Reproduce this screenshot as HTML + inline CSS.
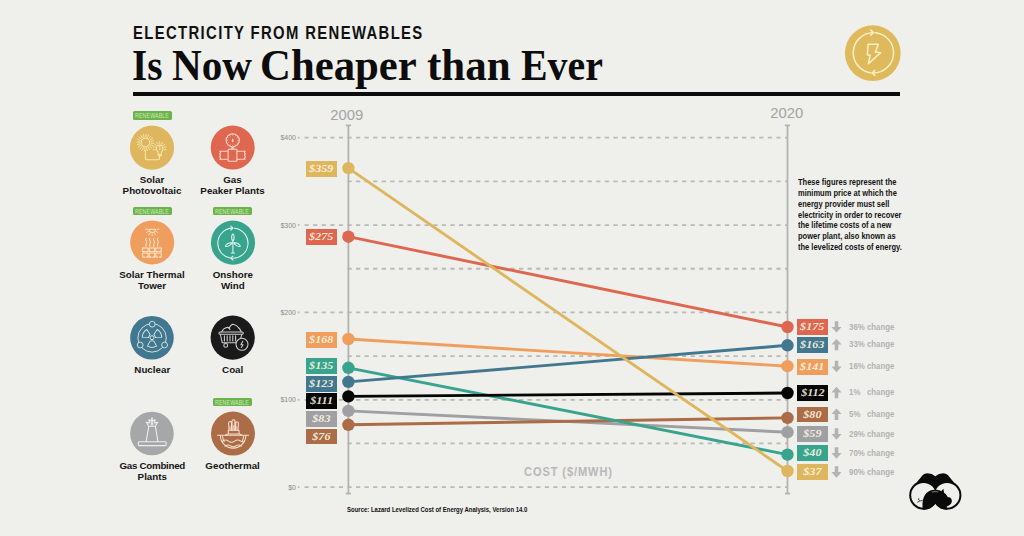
<!DOCTYPE html>
<html><head><meta charset="utf-8">
<style>
html,body{margin:0;padding:0;}
body{width:1024px;height:536px;overflow:hidden;position:relative;background:#efefeb;font-family:"Liberation Sans",sans-serif;}
.abs{position:absolute;}
#sub{position:absolute;left:133px;top:24.5px;font:bold 17.5px/1 "Liberation Sans",sans-serif;letter-spacing:1.6px;transform:scaleX(0.849);transform-origin:0 0;color:#111;white-space:nowrap;}
#title{position:absolute;left:0;top:42.7px;font:bold 44.5px/1 "Liberation Serif",serif;color:#0c0c0c;white-space:nowrap;}
#title span{position:absolute;top:0;transform-origin:0 0;}
#rule{position:absolute;left:133px;top:92.4px;width:767px;height:4px;background:#0c0c0c;}
svg.chart{position:absolute;left:0;top:0;}
.bx{position:absolute;width:31.3px;height:15.9px;color:rgba(255,246,226,0.9);font:italic bold 11.2px/15.6px "Liberation Serif",serif;text-align:center;}
.bx span{display:inline-block;transform:scaleX(1.08);}
.chg{position:absolute;left:849px;width:60px;height:12px;font:bold 9.3px/12px "Liberation Sans",sans-serif;color:#b3b3b3;white-space:nowrap;}
.chg .pc{position:absolute;left:0;top:0;transform:scaleX(0.85);transform-origin:0 0;}
.chg .cw{position:absolute;left:18px;top:0;transform:scaleX(0.84);transform-origin:0 0;}
.yr{position:absolute;font:14.8px/1 "Liberation Sans",sans-serif;color:#a3a3a3;}
.ylab{position:absolute;width:40px;left:256px;text-align:right;font:7px/1 "Liberation Sans",sans-serif;color:#8a8a8a;}
#desc{position:absolute;left:798.4px;top:177.2px;font:bold 8.9px/10.8px "Liberation Sans",sans-serif;color:#141414;white-space:nowrap;transform:scaleX(0.846);transform-origin:0 0;}
#cost{position:absolute;left:524.3px;top:464.6px;font:bold 13.6px/1 "Liberation Sans",sans-serif;color:#b9b9b9;letter-spacing:1.1px;white-space:nowrap;transform:scaleX(0.815);transform-origin:0 0;}
#src{position:absolute;left:346.8px;top:505.5px;font:bold 7.3px/1 "Liberation Sans",sans-serif;color:#111;white-space:nowrap;transform:scaleX(0.82);transform-origin:0 0;}
.ic{position:absolute;width:44.5px;height:44.5px;border-radius:50%;}
.lab{position:absolute;width:90px;text-align:center;font:bold 9.8px/10.8px "Liberation Sans",sans-serif;color:#151515;}
.badge{position:absolute;width:38.8px;height:8.4px;background:#6cb34d;border-radius:1.6px;}
.badge span{position:absolute;left:2.2px;top:1.5px;font:6.6px/1 "Liberation Sans",sans-serif;color:#cbebb3;white-space:nowrap;transform:scaleX(0.8);transform-origin:0 0;letter-spacing:0.15px;}
</style></head><body>
<div id="sub">ELECTRICITY FROM RENEWABLES</div>
<div id="title"><span style="left:131.74px;transform:scaleX(0.8781)">Is</span><span style="left:172.48px;transform:scaleX(0.9235)">Now</span><span style="left:260.48px;transform:scaleX(0.9613)">Cheaper</span><span style="left:426.93px;transform:scaleX(0.9671)">than</span><span style="left:521.40px;transform:scaleX(0.8956)">Ever</span></div>
<div id="rule"></div>
<svg class="chart" width="1024" height="536" viewBox="0 0 1024 536">
<line x1="304.5" y1="137.70" x2="787" y2="137.70" stroke="#b9b9b6" stroke-width="1.8" stroke-dasharray="4.25 4.33"/><line x1="297.8" y1="137.70" x2="299.5" y2="137.70" stroke="#b9b9b6" stroke-width="1.8"/><line x1="347.4" y1="181.38" x2="787" y2="181.38" stroke="#b9b9b6" stroke-width="1.8" stroke-dasharray="4.25 4.33"/><line x1="304.5" y1="225.06" x2="787" y2="225.06" stroke="#b9b9b6" stroke-width="1.8" stroke-dasharray="4.25 4.33"/><line x1="297.8" y1="225.06" x2="299.5" y2="225.06" stroke="#b9b9b6" stroke-width="1.8"/><line x1="347.4" y1="268.74" x2="787" y2="268.74" stroke="#b9b9b6" stroke-width="1.8" stroke-dasharray="4.25 4.33"/><line x1="304.5" y1="312.42" x2="787" y2="312.42" stroke="#b9b9b6" stroke-width="1.8" stroke-dasharray="4.25 4.33"/><line x1="297.8" y1="312.42" x2="299.5" y2="312.42" stroke="#b9b9b6" stroke-width="1.8"/><line x1="347.4" y1="356.10" x2="787" y2="356.10" stroke="#b9b9b6" stroke-width="1.8" stroke-dasharray="4.25 4.33"/><line x1="304.5" y1="399.78" x2="787" y2="399.78" stroke="#b9b9b6" stroke-width="1.8" stroke-dasharray="4.25 4.33"/><line x1="297.8" y1="399.78" x2="299.5" y2="399.78" stroke="#b9b9b6" stroke-width="1.8"/><line x1="347.4" y1="443.46" x2="787" y2="443.46" stroke="#b9b9b6" stroke-width="1.8" stroke-dasharray="4.25 4.33"/><line x1="304.5" y1="487.14" x2="787" y2="487.14" stroke="#b9b9b6" stroke-width="1.8" stroke-dasharray="4.25 4.33"/><line x1="297.8" y1="487.14" x2="299.5" y2="487.14" stroke="#b9b9b6" stroke-width="1.8"/><line x1="348.4" y1="125.4" x2="348.4" y2="493.6" stroke="#b3b3b1" stroke-width="1.8"/><line x1="345.79999999999995" y1="125.4" x2="351.0" y2="125.4" stroke="#b3b3b1" stroke-width="1.8"/><line x1="345.79999999999995" y1="493.6" x2="351.0" y2="493.6" stroke="#b3b3b1" stroke-width="1.8"/><line x1="787.5" y1="125.4" x2="787.5" y2="493.6" stroke="#b3b3b1" stroke-width="1.8"/><line x1="784.9" y1="125.4" x2="790.1" y2="125.4" stroke="#b3b3b1" stroke-width="1.8"/><line x1="784.9" y1="493.6" x2="790.1" y2="493.6" stroke="#b3b3b1" stroke-width="1.8"/><line x1="348.4" y1="410.9" x2="787.5" y2="432.2" stroke="#9fa0a3" stroke-width="2.9"/><line x1="348.4" y1="424.8" x2="787.5" y2="417.9" stroke="#ab6c47" stroke-width="2.9"/><line x1="348.4" y1="339.0" x2="787.5" y2="366.2" stroke="#f09e5e" stroke-width="2.9"/><line x1="348.4" y1="367.8" x2="787.5" y2="454.6" stroke="#38a48e" stroke-width="2.9"/><line x1="348.4" y1="381.9" x2="787.5" y2="345.3" stroke="#42788f" stroke-width="2.9"/><line x1="348.4" y1="236.7" x2="787.5" y2="327.0" stroke="#df6750" stroke-width="2.9"/><line x1="348.4" y1="396.4" x2="787.5" y2="393.0" stroke="#050505" stroke-width="2.9"/><line x1="348.4" y1="168.1" x2="787.5" y2="471.0" stroke="#ddb65d" stroke-width="2.9"/><circle cx="348.4" cy="410.9" r="6.2" fill="#9fa0a3"/><circle cx="787.5" cy="432.2" r="6.2" fill="#9fa0a3"/><circle cx="348.4" cy="424.8" r="6.2" fill="#ab6c47"/><circle cx="787.5" cy="417.9" r="6.2" fill="#ab6c47"/><circle cx="348.4" cy="339.0" r="6.2" fill="#f09e5e"/><circle cx="787.5" cy="366.2" r="6.2" fill="#f09e5e"/><circle cx="348.4" cy="367.8" r="6.2" fill="#38a48e"/><circle cx="787.5" cy="454.6" r="6.2" fill="#38a48e"/><circle cx="348.4" cy="381.9" r="6.2" fill="#42788f"/><circle cx="787.5" cy="345.3" r="6.2" fill="#42788f"/><circle cx="348.4" cy="236.7" r="6.2" fill="#df6750"/><circle cx="787.5" cy="327.0" r="6.2" fill="#df6750"/><circle cx="348.4" cy="396.4" r="6.2" fill="#050505"/><circle cx="787.5" cy="393.0" r="6.2" fill="#050505"/><circle cx="348.4" cy="168.1" r="6.2" fill="#ddb65d"/><circle cx="787.5" cy="471.0" r="6.2" fill="#ddb65d"/><polygon fill="#b3b3b3" points="834.70,466.30 838.30,466.30 838.30,472.10 841.60,472.10 836.50,477.70 831.40,472.10 834.70,472.10"/><polygon fill="#b3b3b3" points="834.70,321.20 838.30,321.20 838.30,327.00 841.60,327.00 836.50,332.60 831.40,327.00 834.70,327.00"/><polygon fill="#b3b3b3" points="834.70,360.80 838.30,360.80 838.30,366.60 841.60,366.60 836.50,372.20 831.40,366.60 834.70,366.60"/><polygon fill="#b3b3b3" points="834.70,447.30 838.30,447.30 838.30,453.10 841.60,453.10 836.50,458.70 831.40,453.10 834.70,453.10"/><polygon fill="#b3b3b3" points="834.70,350.30 838.30,350.30 838.30,344.50 841.60,344.50 836.50,338.90 831.40,344.50 834.70,344.50"/><polygon fill="#b3b3b3" points="834.70,398.20 838.30,398.20 838.30,392.40 841.60,392.40 836.50,386.80 831.40,392.40 834.70,392.40"/><polygon fill="#b3b3b3" points="834.70,428.30 838.30,428.30 838.30,434.10 841.60,434.10 836.50,439.70 831.40,434.10 834.70,434.10"/><polygon fill="#b3b3b3" points="834.70,419.90 838.30,419.90 838.30,414.10 841.60,414.10 836.50,408.50 831.40,414.10 834.70,414.10"/>
</svg>
<div class="yr" style="left:330.3px;top:107.5px">2009</div>
<div class="yr" style="left:770.2px;top:105.8px">2020</div>
<div class="ylab" style="top:134px">$400</div>
<div class="ylab" style="top:222px">$300</div>
<div class="ylab" style="top:309px">$200</div>
<div class="ylab" style="top:396px">$100</div>
<div class="ylab" style="top:484px">$0</div>
<div class="bx" style="left:306px;top:160.8px;background:#ddb65d"><span>$359</span></div><div class="bx" style="left:797px;top:464.3px;background:#ddb65d"><span>$37</span></div><div class="chg" style="top:465.8px"><span class="pc">90%</span><span class="cw">change</span></div><div class="bx" style="left:306px;top:229.3px;background:#df6750"><span>$275</span></div><div class="bx" style="left:797px;top:319.2px;background:#df6750"><span>$175</span></div><div class="chg" style="top:320.7px"><span class="pc">36%</span><span class="cw">change</span></div><div class="bx" style="left:306px;top:332.4px;background:#f09e5e"><span>$168</span></div><div class="bx" style="left:797px;top:358.8px;background:#f09e5e"><span>$141</span></div><div class="chg" style="top:360.3px"><span class="pc">16%</span><span class="cw">change</span></div><div class="bx" style="left:306px;top:358.4px;background:#38a48e"><span>$135</span></div><div class="bx" style="left:797px;top:445.3px;background:#38a48e"><span>$40</span></div><div class="chg" style="top:446.8px"><span class="pc">70%</span><span class="cw">change</span></div><div class="bx" style="left:306px;top:376.0px;background:#42788f"><span>$123</span></div><div class="bx" style="left:797px;top:336.9px;background:#42788f"><span>$163</span></div><div class="chg" style="top:338.4px"><span class="pc">33%</span><span class="cw">change</span></div><div class="bx" style="left:306px;top:393.1px;background:#050505"><span>$111</span></div><div class="bx" style="left:797px;top:384.8px;background:#050505"><span>$112</span></div><div class="chg" style="top:386.3px"><span class="pc">1%</span><span class="cw">change</span></div><div class="bx" style="left:306px;top:410.9px;background:#9fa0a3"><span>$83</span></div><div class="bx" style="left:797px;top:426.3px;background:#9fa0a3"><span>$59</span></div><div class="chg" style="top:427.8px"><span class="pc">29%</span><span class="cw">change</span></div><div class="bx" style="left:306px;top:428.5px;background:#ab6c47"><span>$76</span></div><div class="bx" style="left:797px;top:406.5px;background:#ab6c47"><span>$80</span></div><div class="chg" style="top:408.0px"><span class="pc">5%</span><span class="cw">change</span></div>
<div id="desc">These figures represent the<br>minimum price at which the<br>energy provider must sell<br>electricity in order to recover<br>the lifetime costs of a new<br>power plant, also known as<br>the levelized costs of energy.</div>
<div id="cost">COST ($/MWH)</div>
<div id="src">Source: Lazard Levelized Cost of Energy Analysis, Version 14.0</div>
<svg class="chart" width="1024" height="536" viewBox="0 0 1024 536"><g transform="translate(127,123)"><circle cx="25" cy="24.6" r="22.1" fill="#ddb65d"/><circle cx="18.4" cy="19.6" r="4.3" fill="none" stroke="#fbe5ad" stroke-width="1.05" stroke-linecap="round" stroke-linejoin="round"/><path d="M23.98,20.04L26.77,20.26M23.57,21.74L26.16,22.81M22.66,23.24L24.79,25.06M21.33,24.37L22.79,26.76M19.71,25.05L20.36,27.77M17.96,25.18L17.74,27.97M16.26,24.77L15.19,27.36M14.76,23.86L12.94,25.99M13.63,22.53L11.24,23.99M12.95,20.91L10.23,21.56M12.82,19.16L10.03,18.94M13.23,17.46L10.64,16.39M14.14,15.96L12.01,14.14M15.47,14.83L14.01,12.44M17.09,14.15L16.44,11.43M18.84,14.02L19.06,11.23M20.54,14.43L21.61,11.84M22.04,15.34L23.86,13.21M23.17,16.67L25.56,15.21M23.85,18.29L26.57,17.64" stroke="#fbe5ad" stroke-width="0.95" stroke-linecap="round" fill="none"/><path d="M18.4,27.6V35.4Q18.4,36.8 19.8,36.8H31Q32.5,36.8 32.5,35.3V32.6" fill="none" stroke="#fbe5ad" stroke-width="1.05" stroke-linecap="round" stroke-linejoin="round"/><path d="M31,31.2V29Q29.4,27.8 29.4,25.3A3.3,3.3 0 1 1 36,25.3Q36,27.8 34.4,29V31.2Z" fill="none" stroke="#fbe5ad" stroke-width="1.05" stroke-linecap="round" stroke-linejoin="round"/><path d="M31,32.6H34.4" fill="none" stroke="#fbe5ad" stroke-width="1.05" stroke-linecap="round" stroke-linejoin="round"/><path d="M33.6,23.4Q32.7,22.9 32.1,23.6Q31.8,24.5 32.8,25Q33.7,25.4 33.4,26.4Q32.8,27 31.9,26.4M32.7,22.3V27.4" fill="none" stroke="#fbe5ad" stroke-width="0.6"/><path d="M28.16,26.42L26.32,26.91M28.09,24.28L26.23,23.91M28.97,22.34L27.46,21.18M30.62,20.98L29.78,19.28M32.70,20.50L32.70,18.60M34.78,20.98L35.62,19.28M36.43,22.34L37.94,21.18M37.31,24.28L39.17,23.91M37.24,26.42L39.08,26.91" stroke="#fbe5ad" stroke-width="0.9" stroke-linecap="round" fill="none"/></g><g transform="translate(208,123)"><circle cx="24.7" cy="24.6" r="22" fill="#df6750"/><circle cx="24.7" cy="17.3" r="6.6" fill="none" stroke="#fbdccc" stroke-width="1.05" stroke-linejoin="round"/><path d="M29.70,17.30L30.60,17.30M29.03,19.80L29.81,20.25M27.20,21.63L27.65,22.41M24.70,22.30L24.70,23.20M22.20,21.63L21.75,22.41M20.37,19.80L19.59,20.25M19.70,17.30L18.80,17.30M20.37,14.80L19.59,14.35M22.20,12.97L21.75,12.19M24.70,12.30L24.70,11.40M27.20,12.97L27.65,12.19M29.03,14.80L29.81,14.35" stroke="#fbdccc" stroke-width="0.6" stroke-linecap="round" fill="none"/><path d="M24.7,15.2Q25.9,17.3 25.6,18.3A0.9,0.9 0 1 1 23.8,18.3Q23.5,17.3 24.7,15.2Z" fill="#fbdccc"/><path d="M24.7,23.9V26.1M22.9,24.9H26.5" fill="none" stroke="#fbdccc" stroke-width="1.05" stroke-linejoin="round"/><rect x="20.1" y="26.2" width="8.8" height="12" rx="0.6" fill="none" stroke="#fbdccc" stroke-width="1.05" stroke-linejoin="round"/><path d="M20.1,28.2H11.8L12.6,29.6L11.6,31L12.6,32.4L11.6,33.8L12.6,35.2L11.8,36.3H20.1" fill="none" stroke="#fbdccc" stroke-width="1.05" stroke-linejoin="round"/><path d="M28.9,28.2H37.2L36.4,29.6L37.4,31L36.4,32.4L37.4,33.8L36.4,35.2L37.2,36.3H28.9" fill="none" stroke="#fbdccc" stroke-width="1.05" stroke-linejoin="round"/></g><g transform="translate(127,218)"><circle cx="25.2" cy="24.4" r="22" fill="#f09e5e"/><path d="M21.9,11.2A3.3,3.3 0 0 0 28.5,11.2Z" fill="none" stroke="#fde6cc" stroke-width="1.05" stroke-linecap="round" stroke-linejoin="round"/><path d="M30.00,11.20L31.80,11.20M29.36,13.60L30.92,14.50M27.60,15.36L28.50,16.92M25.20,16.00L25.20,17.80M22.80,15.36L21.90,16.92M21.04,13.60L19.48,14.50M20.40,11.20L18.60,11.20" stroke="#fde6cc" stroke-width="0.95" stroke-linecap="round" fill="none"/><path d="M19.2,20.2Q18.099999999999998,21.6 19.2,23Q20.3,24.4 19.2,25.8Q18.099999999999998,27.2 19.2,28.4" fill="none" stroke="#fde6cc" stroke-width="1.05" stroke-linecap="round" stroke-linejoin="round"/><path d="M23.0,20.2Q21.9,21.6 23.0,23Q24.1,24.4 23.0,25.8Q21.9,27.2 23.0,28.4" fill="none" stroke="#fde6cc" stroke-width="1.05" stroke-linecap="round" stroke-linejoin="round"/><path d="M27.0,20.2Q25.9,21.6 27.0,23Q28.1,24.4 27.0,25.8Q25.9,27.2 27.0,28.4" fill="none" stroke="#fde6cc" stroke-width="1.05" stroke-linecap="round" stroke-linejoin="round"/><path d="M30.9,20.2Q29.799999999999997,21.6 30.9,23Q32.0,24.4 30.9,25.8Q29.799999999999997,27.2 30.9,28.4" fill="none" stroke="#fde6cc" stroke-width="1.05" stroke-linecap="round" stroke-linejoin="round"/><path d="M17.60,33.50H15.60V29.90H21.00V33.50H19.00" fill="none" stroke="#fde6cc" stroke-width="1.05" stroke-linecap="round" stroke-linejoin="round"/><path d="M24.20,33.50H22.20V29.90H27.60V33.50H25.60" fill="none" stroke="#fde6cc" stroke-width="1.05" stroke-linecap="round" stroke-linejoin="round"/><path d="M30.80,33.50H28.80V29.90H34.20V33.50H32.20" fill="none" stroke="#fde6cc" stroke-width="1.05" stroke-linecap="round" stroke-linejoin="round"/><path d="M17.60,39.10H15.60V35.00H21.00V39.10H19.00" fill="none" stroke="#fde6cc" stroke-width="1.05" stroke-linecap="round" stroke-linejoin="round"/><path d="M24.20,39.10H22.20V35.00H27.60V39.10H25.60" fill="none" stroke="#fde6cc" stroke-width="1.05" stroke-linecap="round" stroke-linejoin="round"/><path d="M30.80,39.10H28.80V35.00H34.20V39.10H32.20" fill="none" stroke="#fde6cc" stroke-width="1.05" stroke-linecap="round" stroke-linejoin="round"/></g><g transform="translate(208,218)"><circle cx="25" cy="24.7" r="22.1" fill="#38a48e"/><path d="M26.48,10.18A15.1,15.1 0 0 1 23.32,40.22" fill="none" stroke="#e3f5ee" stroke-width="1.05" stroke-linecap="round" stroke-linejoin="round"/><path d="M22.28,40.07A15.1,15.1 0 0 1 24.37,10.11" fill="none" stroke="#e3f5ee" stroke-width="1.05" stroke-linecap="round" stroke-linejoin="round"/><path d="M22.77,8.11L24.97,10.11L22.77,12.11" fill="none" stroke="#e3f5ee" stroke-width="1.05" stroke-linecap="round" stroke-linejoin="round"/><path d="M24.92,38.22L22.72,40.22L24.92,42.22" fill="none" stroke="#e3f5ee" stroke-width="1.05" stroke-linecap="round" stroke-linejoin="round"/><path d="M24.9,25.2V35.0M23.3,35.0H26.6" fill="none" stroke="#e3f5ee" stroke-width="1.05" stroke-linecap="round" stroke-linejoin="round"/><path transform="translate(24.9,24.3) rotate(0)" d="M0,-1.0C-1.9,-3.5 -1.4,-7.6 0,-8.4C1.4,-7.6 1.9,-3.5 0,-1.0Z" fill="none" stroke="#e3f5ee" stroke-width="1.05" stroke-linecap="round" stroke-linejoin="round"/><path transform="translate(24.9,24.3) rotate(118)" d="M0,-1.0C-1.9,-3.5 -1.4,-7.6 0,-8.4C1.4,-7.6 1.9,-3.5 0,-1.0Z" fill="none" stroke="#e3f5ee" stroke-width="1.05" stroke-linecap="round" stroke-linejoin="round"/><path transform="translate(24.9,24.3) rotate(242)" d="M0,-1.0C-1.9,-3.5 -1.4,-7.6 0,-8.4C1.4,-7.6 1.9,-3.5 0,-1.0Z" fill="none" stroke="#e3f5ee" stroke-width="1.05" stroke-linecap="round" stroke-linejoin="round"/><circle cx="24.9" cy="24.3" r="0.9" fill="#e3f5ee"/></g><g transform="translate(127,313)"><circle cx="24.95" cy="24.75" r="21.8" fill="#42788f"/><circle cx="25.1" cy="24.9" r="14.2" fill="none" stroke="#dbe9ec" stroke-width="0.9" stroke-linejoin="round"/><circle cx="25.2" cy="11.2" r="2.9" fill="#42788f" stroke="#dbe9ec" stroke-width="0.9"/><circle cx="13.2" cy="32.0" r="2.9" fill="#42788f" stroke="#dbe9ec" stroke-width="0.9"/><circle cx="37.6" cy="32.0" r="2.9" fill="#42788f" stroke="#dbe9ec" stroke-width="0.9"/><circle cx="25.0" cy="24.7" r="2.0" fill="none" stroke="#dbe9ec" stroke-width="0.9" stroke-linejoin="round"/><path transform="translate(25.0,24.7) rotate(-150)" d="M3.2,-1.8L8.6,-4.6A9.8,9.8 0 0 1 8.6,4.6L3.2,1.8Z" fill="none" stroke="#dbe9ec" stroke-width="0.9" stroke-linejoin="round"/><path transform="translate(25.0,24.7) rotate(-30)" d="M3.2,-1.8L8.6,-4.6A9.8,9.8 0 0 1 8.6,4.6L3.2,1.8Z" fill="none" stroke="#dbe9ec" stroke-width="0.9" stroke-linejoin="round"/><path transform="translate(25.0,24.7) rotate(90)" d="M3.2,-1.8L8.6,-4.6A9.8,9.8 0 0 1 8.6,4.6L3.2,1.8Z" fill="none" stroke="#dbe9ec" stroke-width="0.9" stroke-linejoin="round"/></g><g transform="translate(208,313)"><circle cx="24.7" cy="24.6" r="22.1" fill="#1a1a1a"/><path d="M13.6,18.9Q15.2,15.3 19.4,14.3L21.1,15.3Q22.8,11.5 25,11.3Q28.4,11.9 30.4,14.5Q32.5,16.3 33.2,18.9" fill="none" stroke="#cfcfcf" stroke-width="1.05" stroke-linejoin="round" stroke-linecap="round"/><path d="M20.4,14.5L22.0,16.4" fill="none" stroke="#cfcfcf" stroke-width="1.05" stroke-linejoin="round" stroke-linecap="round"/><rect x="10.9" y="18.9" width="24.4" height="2.3" rx="1.1" fill="none" stroke="#cfcfcf" stroke-width="1.05" stroke-linejoin="round" stroke-linecap="round"/><path d="M12.3,21.3L14.3,29.8H29.0M33.9,21.3L32.6,25.6" fill="none" stroke="#cfcfcf" stroke-width="1.05" stroke-linejoin="round" stroke-linecap="round"/><path d="M16.4,22.8V27.9" stroke="#cfcfcf" stroke-width="1.1" stroke-linecap="round"/><path d="M19.2,22.8V27.9" stroke="#cfcfcf" stroke-width="1.1" stroke-linecap="round"/><path d="M22.0,22.8V27.9" stroke="#cfcfcf" stroke-width="1.1" stroke-linecap="round"/><path d="M24.8,22.8V27.9" stroke="#cfcfcf" stroke-width="1.1" stroke-linecap="round"/><path d="M27.6,22.8V27.9" stroke="#cfcfcf" stroke-width="1.1" stroke-linecap="round"/><circle cx="17.7" cy="32.4" r="1.9" fill="none" stroke="#cfcfcf" stroke-width="1.05" stroke-linejoin="round" stroke-linecap="round"/><circle cx="34.0" cy="31.3" r="6.0" fill="#1a1a1a" stroke="#cfcfcf" stroke-width="1.05"/><path d="M34.8,28.2L32.9,31.7H35.1L33.3,34.5" fill="none" stroke="#cfcfcf" stroke-width="1.05" stroke-linejoin="round" stroke-linecap="round"/></g><g transform="translate(127,409)"><circle cx="24.95" cy="24.5" r="21.8" fill="#a6a7a9"/><rect x="11.3" y="32.7" width="27.9" height="3.9" rx="1.0" fill="none" stroke="#f0f0f0" stroke-width="1.05" stroke-linejoin="round" stroke-linecap="round"/><path d="M19.1,32.7L21.8,17.3H28.4L30.9,32.7" fill="none" stroke="#f0f0f0" stroke-width="1.05" stroke-linejoin="round" stroke-linecap="round"/><path d="M21.6,17.3L19.4,13.3L22.4,14.0L22.0,10.6L24.2,12.4L25.0,8.6L25.8,12.4L28.0,10.6L27.6,14.0L30.6,13.3L28.4,17.3" fill="none" stroke="#f0f0f0" stroke-width="1.05" stroke-linejoin="round" stroke-linecap="round"/><path d="M25.0,13.0Q26.2,14.6 25.9,15.7A0.95,0.95 0 0 1 24.1,15.7Q23.8,14.6 25.0,13.0Z" fill="none" stroke="#f0f0f0" stroke-width="1.05" stroke-linejoin="round" stroke-linecap="round"/></g><g transform="translate(208,409)"><circle cx="25" cy="24.6" r="22" fill="#ab6c47"/><path d="M9.6,26.2H40.6" fill="none" stroke="#f7dfcc" stroke-width="1.05" stroke-linejoin="round" stroke-linecap="round"/><path d="M12.4,26.4A12.7,12.7 0 0 0 37.8,26.4" fill="none" stroke="#f7dfcc" stroke-width="1.05" stroke-linejoin="round" stroke-linecap="round"/><path d="M14.6,27.2Q14.8,30.5 16.2,32.6M35.6,27.2Q35.4,30.5 34,32.6" fill="none" stroke="#f7dfcc" stroke-width="1.05" stroke-linejoin="round" stroke-linecap="round"/><path d="M14.2,32.4Q17.3,29.9 20.4,32.1Q23.5,34.3 26.6,32.1Q29.7,29.9 32.8,32.1Q34.8,33.5 36.4,32.4" fill="none" stroke="#f7dfcc" stroke-width="1.05" stroke-linejoin="round" stroke-linecap="round"/><path d="M17.0,37.2Q19.8,35.0 22.6,36.9Q25.3,38.7 28.0,36.9Q30.8,35.0 33.4,37.2" fill="none" stroke="#f7dfcc" stroke-width="1.05" stroke-linejoin="round" stroke-linecap="round"/><path d="M17.4,26.2L19.8,25.0H31.4L33.8,26.2M20.3,25.0V21.3H31.0V25.0" fill="none" stroke="#f7dfcc" stroke-width="1.05" stroke-linejoin="round" stroke-linecap="round"/><path d="M21.0,21.3L20.6,14.2Q20.4,12.6 21.9,12.9Q22.6,12.0 23.5,12.8L23.4,21.3M24.2,21.3L24.0,12.4Q24.2,10.4 25.6,10.9Q27.0,10.6 26.9,12.6L26.7,21.3M27.6,21.3L27.7,14.0Q28.0,12.5 29.2,12.9Q30.6,12.9 30.4,14.4L30.0,21.3" fill="none" stroke="#f7dfcc" stroke-width="1.05" stroke-linejoin="round" stroke-linecap="round"/><path d="M22.1,17.5V20.5M25.4,16.5V20.5M28.8,17.5V20.5" stroke="#f7dfcc" stroke-width="0.8" stroke-linecap="round"/></g><defs><clipPath id="lgc"><circle cx="923.6" cy="495.3" r="14.4"/><circle cx="947" cy="495.3" r="14.4"/></clipPath></defs><circle cx="923.6" cy="495.3" r="14.4" fill="#0a0a0a"/><circle cx="947" cy="495.3" r="14.4" fill="#0a0a0a"/><path d="M911.2,489L922.8,474.9Q924.5,473.2 927.5,473.2Q932,473.2 935.3,476.2Q938.6,473.2 943.1,473.2Q946.1,473.2 947.8,474.9L959.4,489L935.3,497Z" fill="#0a0a0a"/><circle cx="923.6" cy="495.3" r="12.4" fill="#efefeb"/><circle cx="947" cy="495.3" r="12.4" fill="#efefeb"/><g clip-path="url(#lgc)" fill="#0a0a0a"><path d="M922.8,510C921.6,501 923.5,490.6 934,489.8C937.6,489.6 939.8,490.3 941.2,491.2L943.4,488.8L944,492.7C946,494 947.3,495.8 947.9,497.3C950.6,496.6 952.2,499.2 951.8,501.8C951.3,504.6 949,505.6 946.8,506.4L947,512L923,512Z"/></g><path d="M922.3,500.6Q920.2,501.6 918.6,499.8Q917.6,498.8 918.8,498.5M919.4,501.3L917.6,502.2" stroke="#1a1a1a" stroke-width="0.8" fill="none" stroke-linecap="round"/><path d="M931.8,492.0Q935,491.2 938.2,492.0" stroke="#8a8a8a" stroke-width="0.9" fill="none"/><circle cx="872.8" cy="53.2" r="27.85" fill="#dfba5d"/><path d="M875.16,32.68A20.2,20.2 0 0 1 872.70,72.99" fill="none" stroke="#fcf0cb" stroke-width="1.45" stroke-linecap="round" stroke-linejoin="round"/><path d="M870.94,72.85A20.2,20.2 0 0 1 872.87,32.61" fill="none" stroke="#fcf0cb" stroke-width="1.45" stroke-linecap="round" stroke-linejoin="round"/><path d="M870.67,30.01L873.47,32.61L870.67,35.21" fill="none" stroke="#fcf0cb" stroke-width="1.45" stroke-linecap="round" stroke-linejoin="round"/><path d="M874.90,70.39L872.10,72.99L874.90,75.59" fill="none" stroke="#fcf0cb" stroke-width="1.45" stroke-linecap="round" stroke-linejoin="round"/><path d="M868.1,44.3H878.3L875.3,52.0L880.7,52.6L868.4,63.7L870.2,55.3L867.3,54.7Z" fill="none" stroke="#fcf0cb" stroke-width="1.45" stroke-linecap="round" stroke-linejoin="round"/></svg>
<div class="badge" style="left:132.80px;top:111.3px"><span>RENEWABLE</span></div>
<div class="badge" style="left:133.00px;top:207.0px"><span>RENEWABLE</span></div>
<div class="badge" style="left:213.10px;top:207.0px"><span>RENEWABLE</span></div>
<div class="badge" style="left:213.20px;top:398.1px"><span>RENEWABLE</span></div>
<div class="lab" style="left:107.0px;top:174.9px">Solar<br>Photovoltaic</div>
<div class="lab" style="left:187.5px;top:174.9px">Gas<br>Peaker Plants</div>
<div class="lab" style="left:107.0px;top:270.0px">Solar Thermal<br>Tower</div>
<div class="lab" style="left:187.9px;top:270.0px">Onshore<br>Wind</div>
<div class="lab" style="left:107.3px;top:365.1px">Nuclear</div>
<div class="lab" style="left:187.7px;top:365.1px">Coal</div>
<div class="lab" style="left:107.3px;top:461.2px"><span style="letter-spacing:-0.3px">Gas Combined</span><br>Plants</div>
<div class="lab" style="left:187.6px;top:460.9px">Geothermal</div>
</body></html>
